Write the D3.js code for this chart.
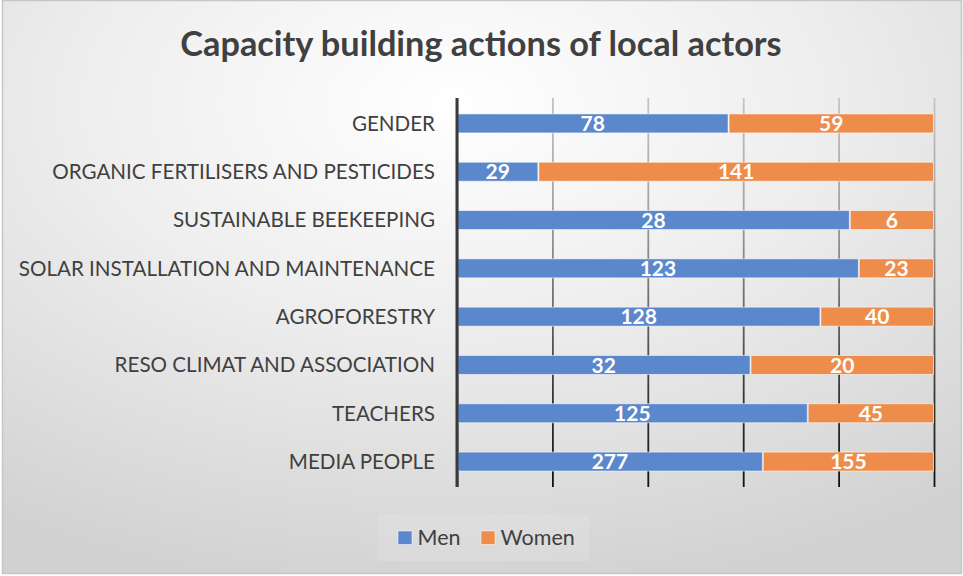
<!DOCTYPE html>
<html>
<head>
<meta charset="utf-8">
<script src="https://cdn.jsdelivr.net/npm/d3@7"></script>
<style>
  html, body { margin: 0; padding: 0; background: #ffffff; }
  svg { display: block; }
</style>
</head>
<body>
<svg id="chart" width="963" height="576"></svg>
<script>
const categories = [
  "GENDER",
  "ORGANIC FERTILISERS AND PESTICIDES",
  "SUSTAINABLE BEEKEEPING",
  "SOLAR INSTALLATION AND MAINTENANCE",
  "AGROFORESTRY ",
  "RESO CLIMAT AND ASSOCIATION",
  "TEACHERS",
  "MEDIA PEOPLE"
];
const menValues   = [78, 29, 28, 123, 128, 32, 125, 277];
const womenValues = [59, 141, 6, 23, 40, 20, 45, 155];
const seriesNames = ["Men", "Women"];
const seriesColors = ["#5b87cc", "#ee8c4b"];
const xTicks = [0, 0.2, 0.4, 0.6, 0.8, 1];
const titleText = "Capacity building actions of local actors";

const W = 963, H = 576;
const FONT = "Lato, 'Open Sans', sans-serif";
const svg = d3.select("#chart");
const defs = svg.append("defs");

const bg = defs.append("radialGradient").attr("id", "bg")
  .attr("cx", "0.47").attr("cy", "0.18").attr("r", "0.85")
  .attr("fx", "0.47").attr("fy", "0.18");
bg.append("stop").attr("offset", "0").attr("stop-color", "#ffffff");
bg.append("stop").attr("offset", "0.45").attr("stop-color", "#eeeeee");
bg.append("stop").attr("offset", "1").attr("stop-color", "#d2d2d2");

const plot = { left: 457, right: 934, top: 98, bottom: 487 };
const ph = plot.bottom - plot.top;

const gridGrad = defs.append("linearGradient").attr("id", "grid")
  .attr("gradientUnits", "userSpaceOnUse")
  .attr("x1", 0).attr("x2", 0).attr("y1", -ph).attr("y2", 0);
gridGrad.append("stop").attr("offset", "0").attr("stop-color", "#c4c4c4");
gridGrad.append("stop").attr("offset", "0.3").attr("stop-color", "#a0a0a0");
gridGrad.append("stop").attr("offset", "0.75").attr("stop-color", "#3a3a3a");
gridGrad.append("stop").attr("offset", "1").attr("stop-color", "#111111");

svg.append("rect").attr("x", 2.5).attr("y", 0.5).attr("width", W - 4).attr("height", H - 3)
  .attr("fill", "url(#bg)").attr("stroke", "#c6c6c6").attr("stroke-width", 1.5);

svg.append("text").attr("x", 481).attr("y", 56)
  .attr("text-anchor", "middle").attr("font-family", FONT)
  .attr("font-weight", "bold").attr("font-size", 34.3).attr("fill", "#404040")
  .text(titleText);

const x = d3.scaleLinear().domain([0, 1]).range([plot.left, plot.right]);
const y = d3.scaleBand().domain(categories).range([plot.top, plot.bottom])
  .paddingInner(0.607).paddingOuter(0.33);

// gridlines via axis
const gridAxis = d3.axisBottom(x).tickValues(xTicks).tickSize(-ph).tickFormat("");
const gg = svg.append("g").attr("transform", `translate(0,${plot.bottom})`).call(gridAxis);
gg.select(".domain").remove();
gg.selectAll(".tick line").remove();
gg.selectAll(".tick").append("rect")
  .attr("x", -0.9).attr("width", 1.8)
  .attr("y", -ph).attr("height", ph)
  .attr("fill", "url(#grid)");

const data = categories.map((c, i) => {
  const t = menValues[i] + womenValues[i];
  return { cat: c, vals: [menValues[i], womenValues[i]], total: t };
});

const stack = d3.stack().keys([0, 1]).value((d, k) => d.vals[k] / d.total);
const layers = stack(data);

const barG = svg.append("g");
layers.forEach((layer, k) => {
  barG.selectAll(null).data(layer).enter().append("rect")
    .attr("x", d => x(d[0]) + 0.5)
    .attr("width", d => x(d[1]) - x(d[0]) - 1)
    .attr("y", d => y(d.data.cat))
    .attr("height", y.bandwidth())
    .attr("fill", seriesColors[k])
    .attr("stroke", "rgba(255,255,255,0.55)").attr("stroke-width", 1);
});
layers.forEach((layer, k) => {
  barG.selectAll(null).data(layer).enter().append("text")
    .attr("x", d => (x(d[0]) + x(d[1])) / 2)
    .attr("y", d => y(d.data.cat) + y.bandwidth() / 2)
    .attr("dy", "0.36em")
    .attr("text-anchor", "middle").attr("font-family", FONT)
    .attr("font-weight", "bold").attr("font-size", 21).attr("fill", "#ffffff")
    .text(d => d.data.vals[k]);
});

// category axis
const yAxis = d3.axisLeft(y).tickSize(0).tickPadding(22);
const ya = svg.append("g").attr("transform", `translate(${plot.left},0)`).call(yAxis);
ya.select(".domain").attr("stroke", "#3a3a3a").attr("stroke-width", 3)
  .attr("d", `M0,${plot.top}V${plot.bottom}`);
ya.selectAll(".tick text").attr("font-family", FONT).attr("font-size", 20.6)
  .attr("fill", "#404040").attr("dy", "0.36em");

// legend
const lg = svg.append("g");
lg.append("rect").attr("x", 378).attr("y", 515).attr("width", 211).attr("height", 46)
  .attr("fill", "rgba(255,255,255,0.12)");
const legX = [398, 481];
seriesNames.forEach((n, k) => {
  lg.append("rect").attr("x", legX[k]).attr("y", 531).attr("width", 14).attr("height", 13.5)
    .attr("fill", seriesColors[k]).attr("stroke", "rgba(255,255,255,0.5)").attr("stroke-width", 1);
  lg.append("text").attr("x", legX[k] + 19.5).attr("y", 545)
    .attr("font-family", FONT).attr("font-size", 21.5).attr("fill", "#404040").text(n);
});
</script>
</body>
</html>
